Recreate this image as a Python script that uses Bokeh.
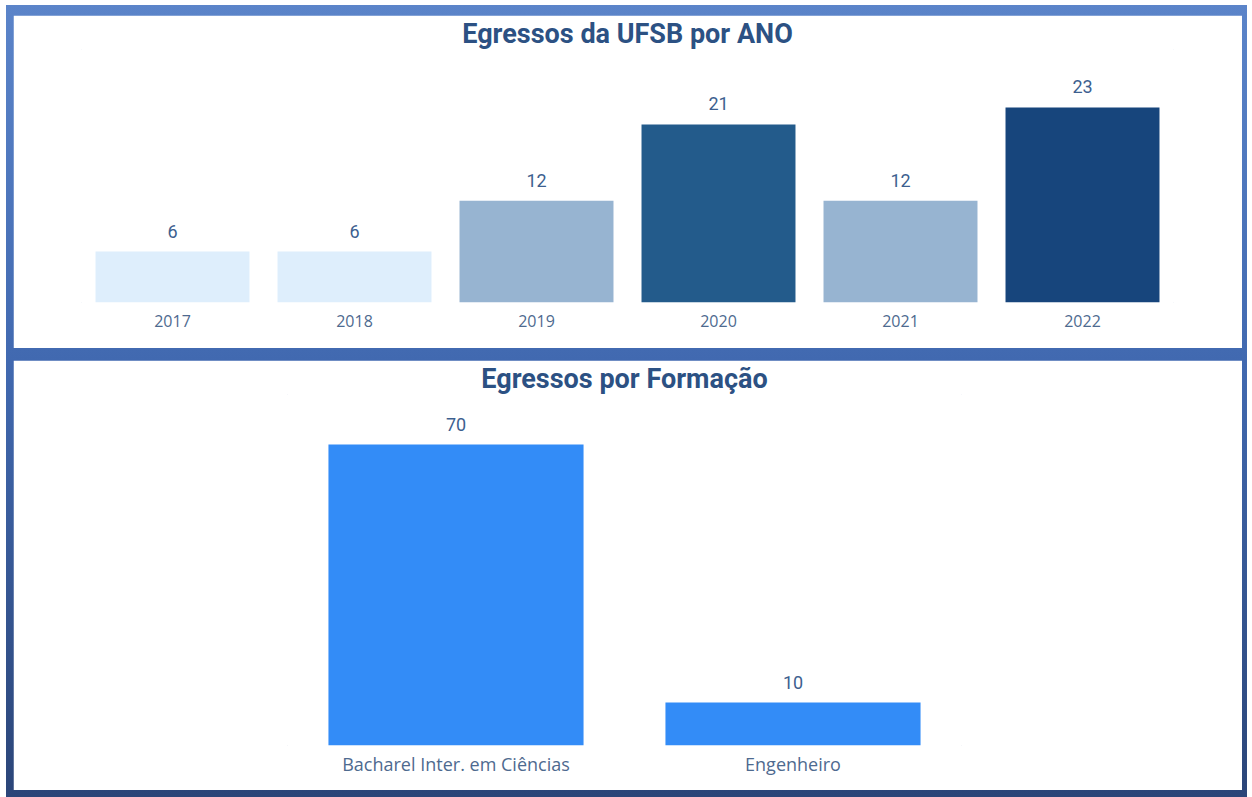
from bokeh.plotting import figure
from bokeh.models import ColumnDataSource, LabelSet, Range1d, FactorRange
from bokeh.layouts import column
from bokeh.core.properties import value
from bokeh.embed import file_html
from bokeh.resources import INLINE

# ---- data ----
anos = ["2017", "2018", "2019", "2020", "2021", "2022"]
egressos_ano = [6, 6, 12, 21, 12, 23]
formacoes = ["Bacharel Inter. em Ciências", "Engenheiro"]
egressos_formacao = [70, 10]

# ---- styles ----
ano_colors = ["#DEEEFC", "#DEEEFC", "#97B4D1", "#235B8B", "#97B4D1", "#17457C"]
form_color = "#338CF7"
TITLE_COLOR = "#2C5183"
LABEL_COLOR = "#3D5F8F"
AXIS_COLOR = "#4E6A8F"


def style(p, title_size):
    p.frame_align = False
    p.title.text_font = "Roboto"
    p.title.text_font_size = title_size
    p.title.text_font_style = "bold"
    p.title.text_color = TITLE_COLOR
    p.title.align = "center"
    p.title.standoff = 0
    p.xgrid.visible = False
    p.ygrid.visible = False
    p.yaxis.visible = False
    p.xaxis.axis_line_color = None
    p.xaxis.major_tick_line_color = None
    p.xaxis.minor_tick_line_color = None
    p.xaxis.major_tick_out = 0
    p.xaxis.major_tick_in = 0
    p.xaxis.minor_tick_out = 0
    p.xaxis.major_label_text_color = AXIS_COLOR
    p.xaxis.major_label_text_font = "Open Sans"
    p.background_fill_color = "white"
    p.border_fill_color = "white"
    p.outline_line_color = "white"


common = dict(output_backend="svg", toolbar_location=None)

# ---- top chart ----
src1 = ColumnDataSource(dict(x=anos, y=egressos_ano, c=ano_colors,
                             t=[str(v) for v in egressos_ano]))
p1 = figure(x_range=FactorRange(*anos), y_range=Range1d(0, 29.83),
            width=1229, height=333, title="Egressos da UFSB por ANO",
            min_border_left=68, min_border_right=69,
            min_border_top=34, min_border_bottom=46, **common)
p1.vbar(x="x", top="y", width=0.846, fill_color="c", line_color=None, source=src1)
p1.add_layout(LabelSet(x="x", y="y", text="t", source=src1, y_offset=14,
                       text_align="center", text_baseline="bottom",
                       text_font=value("Roboto"), text_font_size="18px",
                       text_color=LABEL_COLOR))
style(p1, "27px")
p1.xaxis.major_label_text_font_size = "16px"
p1.xaxis.major_label_standoff = 12

# ---- bottom chart ----
src2 = ColumnDataSource(dict(x=formacoes, y=egressos_formacao,
                             t=[str(v) for v in egressos_formacao]))
p2 = figure(x_range=FactorRange(*formacoes), y_range=Range1d(0, 81.63),
            width=1229, height=430, title="Egressos por Formação",
            min_border_left=274, min_border_right=281,
            min_border_top=34, min_border_bottom=45, **common)
p2.vbar(x="x", top="y", width=0.757, fill_color=form_color, line_color=None, source=src2)
p2.add_layout(LabelSet(x="x", y="y", text="t", source=src2, y_offset=14,
                       text_align="center", text_baseline="bottom",
                       text_font=value("Roboto"), text_font_size="18px",
                       text_color=LABEL_COLOR))
style(p2, "27px")
p2.xaxis.major_label_text_font_size = "18px"
p2.xaxis.major_label_standoff = 6

layout = column(p1, p2, spacing=12,
                styles={"background": "linear-gradient(#5B84C9, #4169B0 45%, #2B4578)",
                        "margin": "5px 0px 0px 6px",
                        "padding": "10px 5px 7px 7px"})

open("out.html", "w").write(file_html(layout, INLINE))
